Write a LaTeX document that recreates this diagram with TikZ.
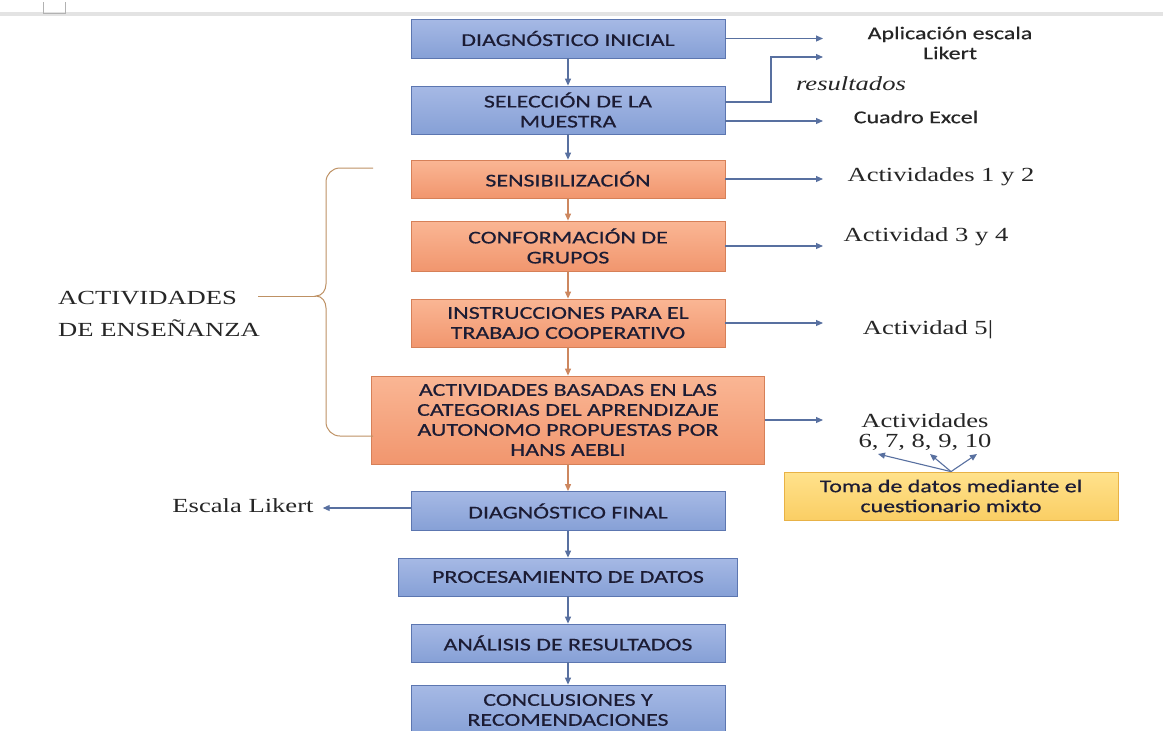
\documentclass[tikz,border=0pt]{standalone}
\usepackage{fontspec}
\usepackage{xcolor}
\usepackage{tikz}
\usetikzlibrary{arrows.meta}
\newfontfamily\boxfont{Carlito}[FakeStretch=1.33,FakeBold=0.5]
\newfontfamily\labfont{Liberation Serif}[FakeStretch=1.33]
\definecolor{bluetop}{RGB}{166,185,229}
\definecolor{bluebot}{RGB}{134,160,214}
\definecolor{bluebd}{RGB}{92,118,176}
\definecolor{ortop}{RGB}{250,182,148}
\definecolor{orbot}{RGB}{241,150,110}
\definecolor{orbd}{RGB}{214,128,88}
\definecolor{yeltop}{RGB}{255,226,140}
\definecolor{yelbot}{RGB}{250,206,100}
\definecolor{yelbd}{RGB}{232,178,70}
\definecolor{arrblue}{RGB}{88,112,160}
\definecolor{arror}{RGB}{205,135,95}
\definecolor{brc}{RGB}{190,145,100}
\definecolor{txtnavy}{RGB}{28,28,52}

\begin{document}
\begin{tikzpicture}[
    x=1pt, y=-1pt,
    >={Triangle[length=7pt,width=6pt]},
    box/.style={draw=#1, line width=0.8pt, minimum width=314pt, inner sep=2pt,
                align=center, text=txtnavy, font=\boxfont\fontsize{18}{20}\selectfont},
    diag/.style={box=bluebd, top color=bluetop, bottom color=bluebot},
    phase/.style={box=orbd, top color=ortop, bottom color=orbot},
    note/.style={box=yelbd, top color=yeltop, bottom color=yelbot, minimum width=334pt},
    lbl/.style={font=\labfont\fontsize{20}{20}\selectfont, align=center, inner sep=0pt, text=black!85},
    slbl/.style={font=\boxfont\fontsize{18}{20}\selectfont, align=center, inner sep=0pt, text=black!85},
    arr/.style={->, line width=1.1pt, draw=arrblue},
    oarr/.style={->, line width=1.1pt, draw=arror},
]
\useasboundingbox (0,0) rectangle (1163,731);
\clip (0,0) rectangle (1163,731);
\fill[white] (0,0) rectangle (1163,731);

% ---------- window edge ----------
\fill[gray!22] (0,11.5) rectangle (1163,15.5);
\draw[gray!60, line width=0.8pt] (43,2) -- (43,13) -- (65,13) -- (65,2);

% ---------- main column ----------
\node[diag,  minimum height=39pt] (ini) at (568,38.5) {DIAGNÓSTICO INICIAL};
\node[diag,  minimum height=48pt] (sel) at (568,110)  {SELECCIÓN DE LA\\MUESTRA};
\node[phase, minimum height=38pt] (sen) at (568,179)  {SENSIBILIZACIÓN};
\node[phase, minimum height=50pt] (grp) at (568,246)  {CONFORMACIÓN DE\\GRUPOS};
\node[phase, minimum height=48pt] (ins) at (568,323)  {INSTRUCCIONES PARA EL\\TRABAJO COOPERATIVO};
\node[phase, minimum width=393pt, minimum height=88pt] (act) at (568,420)
  {ACTIVIDADES BASADAS EN LAS\\CATEGORIAS DEL APRENDIZAJE\\AUTONOMO PROPUESTAS POR\\HANS AEBLI};
\node[diag,  minimum height=39pt] (fin) at (568,511)  {DIAGNÓSTICO FINAL};
\node[diag,  minimum width=339pt, minimum height=38pt] (pro) at (568,577) {PROCESAMIENTO DE DATOS};
\node[diag,  minimum height=38pt] (ana) at (568,643)  {ANÁLISIS DE RESULTADOS};
\node[diag,  minimum height=50pt] (con) at (568,710)  {CONCLUSIONES Y\\RECOMENDACIONES};

\draw[arr]  (ini) -- (sel);
\draw[arr]  (sel) -- (sen);
\draw[oarr] (sen) -- (grp);
\draw[oarr] (grp) -- (ins);
\draw[oarr] (ins) -- (act);
\draw[oarr] (act) -- (fin);
\draw[arr]  (fin) -- (pro);
\draw[arr]  (pro) -- (ana);
\draw[arr]  (ana) -- (con);

% ---------- side labels ----------
\coordinate (tip)  at (823,0);
\coordinate (bend) at (771,57);
\node[slbl] (esc)  at (950,43)  {Aplicación escala\\Likert};
\node[lbl, font=\labfont\itshape\fontsize{20}{20}\selectfont] (res) at (851,84) {resultados};
\node[slbl] (exc)  at (916,117) {Cuadro Excel};
\node[lbl]  (a12)  at (941,177) {Actividades 1 y 2};
\node[lbl]  (a34)  at (926,237) {Actividad 3 y 4};
\node[lbl]  (a5)   at (928,330) {Actividad 5|};
\node[lbl]  (a610) at (925,432) {Actividades\\6, 7, 8, 9, 10};
\node[lbl]  (lik)  at (243,506) {Escala Likert};

\draw[arr] (ini.east) -- (ini.east -| tip);
\draw[arr] ([yshift=8pt]sel.east) -| (bend) -- (bend -| tip);
\draw[arr] ([yshift=-11pt]sel.east) -- ([yshift=-11pt]sel.east -| tip);
\draw[arr] (sen.east) -- (sen.east -| tip);
\draw[arr] (grp.east) -- (grp.east -| tip);
\draw[arr] (ins.east) -- (ins.east -| tip);
\draw[arr] (act.east) -- (act.east -| tip);
\draw[arr] ([yshift=3pt]fin.west) -- ([yshift=3pt,xshift=9pt]fin.west -| lik.east);

% the data-collection note under activities 6-10
\node[note, minimum height=48pt] (toma) at (951,496) {Toma de datos mediante el\\cuestionario mixto};
\coordinate (d6)  at (878,454);
\coordinate (d8)  at (930,454);
\coordinate (d10) at (977,454);
\foreach \d in {d6,d8,d10}
  \draw[arr] (toma.north) -- (\d);

% ---------- brace over the teaching activities ----------
\node[lbl, align=left, anchor=west] (ens) at (58,314) {ACTIVIDADES\\[12pt]DE ENSEÑANZA};
\coordinate (bl) at (258,296);
\draw[brc, line width=1pt] (373,168) -- (340,168) to[out=180,in=90] (326,182) -- (326,284)
  to[out=-90,in=0] (316,296) to[out=0,in=90] (326,308) -- (326,422)
  to[out=-90,in=180] (340,436) -- (373,436);
\draw[brc, line width=1pt] (316,296) -- (bl);

\end{tikzpicture}
\end{document}
